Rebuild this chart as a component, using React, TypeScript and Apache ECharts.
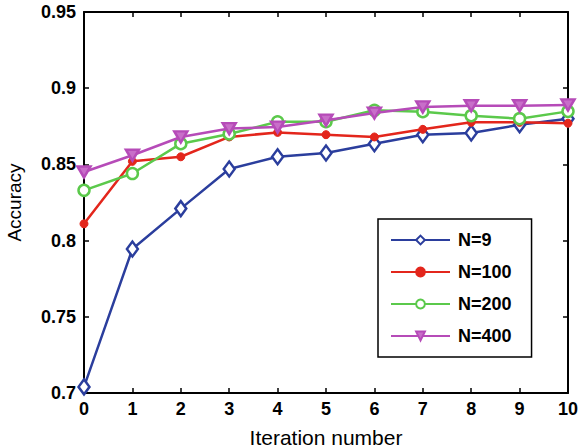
import React, { useEffect, useRef } from "react";
import * as echarts from "echarts";

const iterations = [0, 1, 2, 3, 4, 5, 6, 7, 8, 9, 10];
const n9 = [0.704, 0.7945, 0.821, 0.847, 0.855, 0.8575, 0.8636, 0.8695, 0.8706, 0.876, 0.88];
const n100 = [0.811, 0.852, 0.855, 0.868, 0.871, 0.8695, 0.868, 0.873, 0.8776, 0.8776, 0.877];
const n200 = [0.833, 0.844, 0.8636, 0.87, 0.878, 0.878, 0.8855, 0.8846, 0.882, 0.88, 0.8848];
const n400 = [0.845, 0.856, 0.868, 0.8735, 0.8745, 0.879, 0.8837, 0.8877, 0.8885, 0.8885, 0.889];
const yTickLabels = ["0.7", "0.75", "0.8", "0.85", "0.9", "0.95"];
const seriesNames = ["N=9", "N=100", "N=200", "N=400"];

const FONT = "'Liberation Sans', Arial, Helvetica, sans-serif";

export default function App() {
  const ref = useRef<HTMLDivElement>(null);
  useEffect(() => {
    document.body.style.margin = "0";
    if (!ref.current) return;
    const chart = echarts.init(ref.current, null, { renderer: "svg" });
    const pts = (arr: number[]) => iterations.map((x, i) => [x, arr[i]]);
    const axisLine = { show: true, onZero: false, lineStyle: { color: "#000", width: 2 } };
    const tick = { show: true, inside: true, length: 5, lineStyle: { color: "#000", width: 1.5 } };
    const yFmt = (v: number) => {
      const idx = Math.round((v - 0.7) / 0.05);
      return yTickLabels[idx] ?? "";
    };
    chart.setOption({
      animation: false,
      backgroundColor: "#fff",
      grid: {
        left: 84,
        right: 10,
        top: 12,
        bottom: 55,
        containLabel: false,
        outerBoundsMode: "none",
      },
      legend: {
        orient: "vertical",
        left: 378,
        top: 219,
        data: seriesNames,
        itemWidth: 59,
        itemHeight: 11,
        itemGap: 14,
        padding: [12, 20, 12, 12],
        borderColor: "#000",
        borderWidth: 1.5,
        backgroundColor: "#fff",
        textStyle: {
          fontFamily: FONT,
          fontWeight: "bold",
          fontSize: 18,
          color: "#000",
          padding: [0, 0, 0, 3],
        },
      },
      xAxis: [
        {
          type: "value",
          min: 0,
          max: 10,
          interval: 1,
          name: "Iteration number",
          nameLocation: "middle",
          nameGap: 34,
          nameTextStyle: { fontFamily: FONT, fontSize: 21, color: "#000" },
          axisLine,
          axisTick: tick,
          axisLabel: { fontFamily: FONT, fontWeight: "bold", fontSize: 18, color: "#000", margin: 7 },
          splitLine: { show: false },
        },
        {
          type: "value",
          position: "top",
          min: 0,
          max: 10,
          interval: 1,
          axisLine,
          axisTick: tick,
          axisLabel: { show: false },
          splitLine: { show: false },
        },
      ],
      yAxis: [
        {
          type: "value",
          min: 0.7,
          max: 0.95,
          interval: 0.05,
          name: "Accuracy",
          nameLocation: "middle",
          nameGap: 60,
          nameTextStyle: { fontFamily: FONT, fontSize: 19, color: "#000" },
          axisLine,
          axisTick: tick,
          axisLabel: { fontFamily: FONT, fontWeight: "bold", fontSize: 18, color: "#000", margin: 8, formatter: yFmt },
          splitLine: { show: false },
        },
        {
          type: "value",
          position: "right",
          min: 0.7,
          max: 0.95,
          interval: 0.05,
          axisLine,
          axisTick: tick,
          axisLabel: { show: false },
          splitLine: { show: false },
        },
      ],
      series: [
        {
          name: seriesNames[0],
          type: "line",
          data: pts(n9),
          symbol: "diamond",
          symbolSize: [11, 15],
          lineStyle: { color: "#2b3e9d", width: 2.5 },
          itemStyle: { color: "#ffffff", borderColor: "#2b3e9d", borderWidth: 2.5 },
          z: 2,
        },
        {
          name: seriesNames[1],
          type: "line",
          data: pts(n100),
          symbol: "circle",
          symbolSize: 8,
          lineStyle: { color: "#e3261c", width: 2.5 },
          itemStyle: { color: "#e3261c", borderColor: "#e3261c", borderWidth: 1 },
          z: 3,
        },
        {
          name: seriesNames[2],
          type: "line",
          data: pts(n200),
          symbol: "circle",
          symbolSize: 11,
          lineStyle: { color: "#5bc94b", width: 2.5 },
          itemStyle: { color: "#ffffff", borderColor: "#5bc94b", borderWidth: 2.5 },
          z: 4,
        },
        {
          name: seriesNames[3],
          type: "line",
          data: pts(n400),
          symbol: "triangle",
          symbolRotate: 180,
          symbolSize: [13, 11],
          lineStyle: { color: "#b64bb8", width: 2.5 },
          itemStyle: { color: "#c86ec9", borderColor: "#b64bb8", borderWidth: 2.5 },
          z: 5,
        },
      ],
    });
    return () => chart.dispose();
  }, []);
  return <div ref={ref} style={{ width: 578, height: 448 }} />;
}
